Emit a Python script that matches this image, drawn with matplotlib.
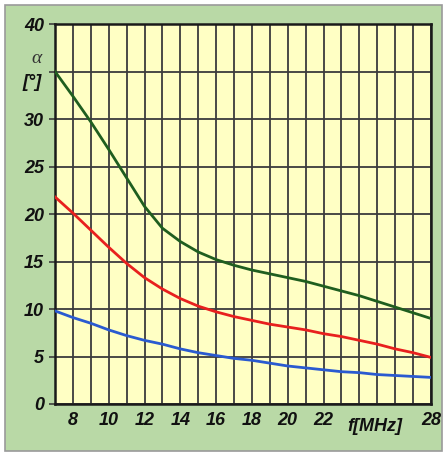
import numpy as np
import matplotlib.pyplot as plt
from matplotlib.patches import Rectangle

# ------ DATA ------
f_mhz = [7, 8, 9, 10, 11, 12, 13, 14, 15, 16, 17, 18, 19, 20, 21, 22, 23, 24, 25, 26, 27, 28]
alpha_green = [35.0, 32.4, 29.7, 26.8, 23.8, 20.8, 18.5, 17.1, 16.0, 15.2, 14.6, 14.1,
               13.7, 13.3, 12.9, 12.4, 11.9, 11.4, 10.8, 10.2, 9.6, 9.0]
alpha_red = [21.8, 20.1, 18.3, 16.5, 14.8, 13.3, 12.1, 11.1, 10.3, 9.7, 9.2, 8.8,
             8.4, 8.1, 7.8, 7.4, 7.1, 6.7, 6.3, 5.8, 5.4, 4.9]
alpha_blue = [9.8, 9.1, 8.5, 7.8, 7.2, 6.7, 6.3, 5.8, 5.4, 5.1, 4.8, 4.6,
              4.3, 4.0, 3.8, 3.6, 3.4, 3.3, 3.1, 3.0, 2.9, 2.8]

x_ticks = list(range(7, 29))
x_labels = ['8', '10', '12', '14', '16', '18', '20', '22', '28']
y_ticks = [0, 5, 10, 15, 20, 25, 30, 35, 40]
y_labels = ['0', '5', '10', '15', '20', '25', '30', '', '40']

# ------ COLOURS ------
bg_green = '#b9d9a6'
plot_yellow = '#ffffc4'
grid_col = '#3c3c3c'

fig = plt.figure(figsize=(4.44, 4.54), dpi=100, facecolor='white')
fig.add_artist(Rectangle((5 / 444, 3 / 454), 437 / 444, 446 / 454, transform=fig.transFigure,
                         facecolor=bg_green, edgecolor='#9a9a9a', lw=1.2, zorder=-10))

ax = fig.add_axes([55 / 444, 50 / 454, 376 / 444, 380 / 454])
ax.set_facecolor(plot_yellow)
ax.set_xlim(7, 28)
ax.set_ylim(0, 40)
ax.set_axisbelow(True)

ax.set_xticks(x_ticks)
ax.set_xticklabels([str(t) if str(t) in x_labels else '' for t in x_ticks])
ax.set_yticks(y_ticks)
ax.set_yticklabels(y_labels)
ax.grid(True, color=grid_col, lw=1.3)

fam = 'Liberation Sans'
font = dict(family=fam, style='italic', weight='bold', size=13)
for lab in ax.get_xticklabels() + ax.get_yticklabels():
    lab.set_fontproperties(font)
    lab.set_color('#111111')
ax.tick_params(axis='x', length=0, pad=6)
ax.tick_params(axis='y', length=4, width=1.2, color=grid_col, pad=4)

for s in ax.spines.values():
    s.set_linewidth(1.8)
    s.set_color('#1a1a1a')

ax.plot(f_mhz, alpha_green, color='#1f5e1f', lw=2.0, zorder=3)
ax.plot(f_mhz, alpha_red, color='#e8201e', lw=2.0, zorder=3)
ax.plot(f_mhz, alpha_blue, color='#2a5ad0', lw=2.0, zorder=3)

ax.text(-0.05, 36.4, 'α', fontfamily='Liberation Serif', fontstyle='italic', fontsize=14,
        color='#333333', ha='center', va='center', transform=ax.get_yaxis_transform())
ax.text(-0.06, 33.8, '[°]', fontfamily=fam, fontstyle='italic', fontweight='bold', fontsize=13,
        color='#111111', ha='center', va='center', transform=ax.get_yaxis_transform())
ax.text(24.85, -0.058, 'f[MHz]', fontfamily=fam, fontstyle='italic', fontweight='bold', fontsize=13,
        color='#111111', ha='center', va='center', transform=ax.get_xaxis_transform())

fig.savefig('out.png', dpi=100, facecolor=fig.get_facecolor())
